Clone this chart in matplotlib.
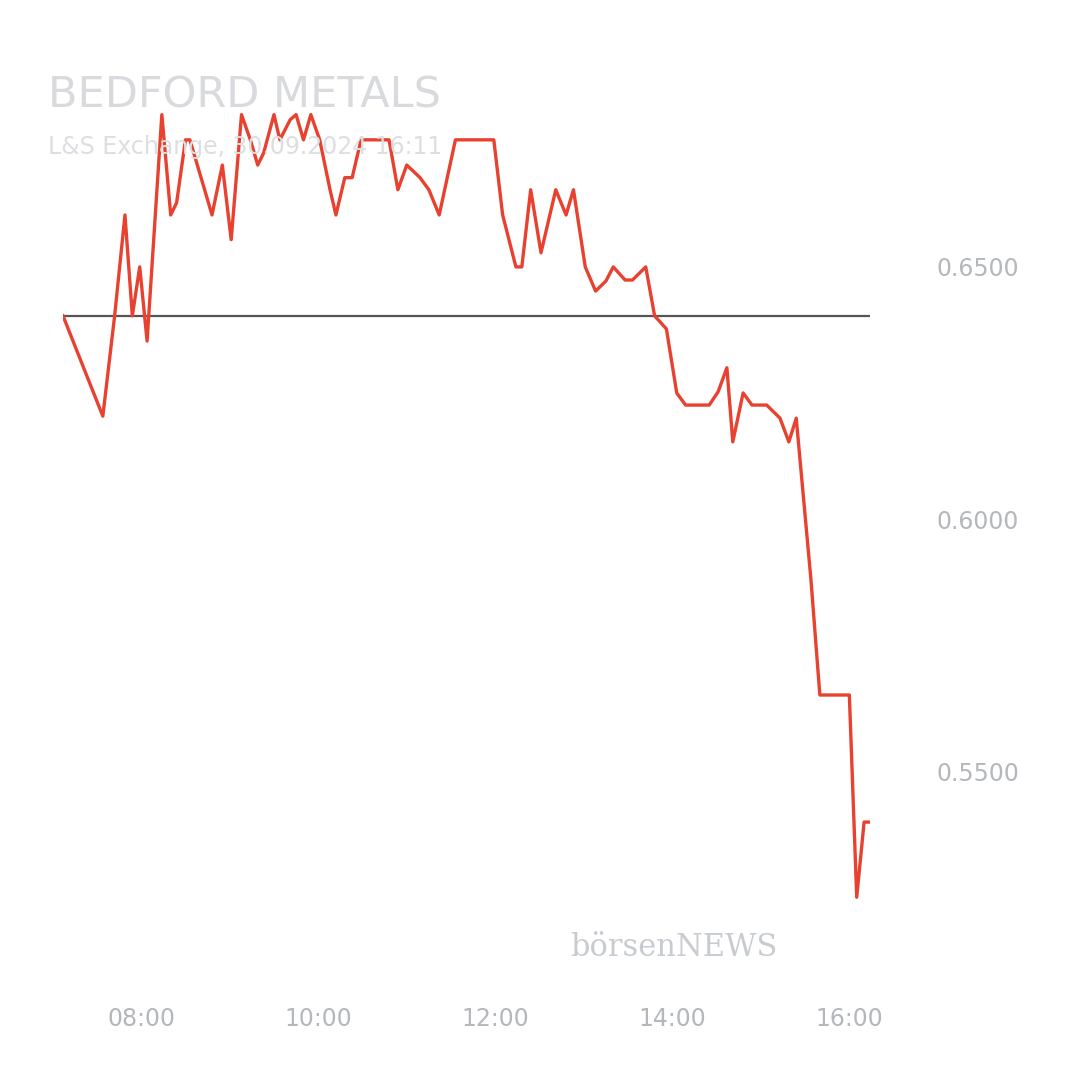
import matplotlib
matplotlib.use("Agg")
import matplotlib.pyplot as plt
import pandas as pd
import matplotlib.dates as mdates

times = ["07:07","07:34","07:42","07:49","07:54","07:59","08:04","08:14","08:20","08:24","08:30","08:33","08:43","08:48","08:55",
"09:01","09:08","09:14","09:19","09:23","09:30","09:34","09:41","09:45","09:50","09:55","10:01","10:08","10:12","10:18","10:23","10:29",
"10:48","10:54","11:00","11:09","11:15","11:22","11:33","11:59","12:05","12:14","12:18","12:24","12:31","12:41","12:48","12:53",
"13:01","13:08","13:15","13:20","13:28","13:33","13:42","13:48","13:56","14:03","14:09","14:25","14:31","14:37","14:41","14:48",
"14:54","15:04","15:13","15:19","15:24","15:34","15:40","16:00","16:05","16:10","16:14"]
prices = [0.6403,0.6204,0.6403,0.6603,0.6403,0.6500,0.6353,0.6802,0.6603,0.6627,0.6752,0.6752,0.6653,0.6603,0.6702,
0.6554,0.6802,0.6752,0.6702,0.6726,0.6802,0.6752,0.6792,0.6802,0.6752,0.6802,0.6752,0.6653,0.6603,0.6677,0.6677,0.6752,
0.6752,0.6653,0.6702,0.6677,0.6653,0.6603,0.6752,0.6752,0.6603,0.6500,0.6500,0.6653,0.6528,0.6653,0.6603,0.6653,
0.6500,0.6452,0.6472,0.6500,0.6474,0.6474,0.6500,0.6403,0.6377,0.6250,0.6226,0.6226,0.6252,0.6300,0.6153,0.6250,
0.6226,0.6226,0.6200,0.6153,0.6200,0.5879,0.5651,0.5651,0.5250,0.5399,0.5399]
prev_close = 0.6403
xticks = ["08:00","10:00","12:00","14:00","16:00"]

t = pd.to_datetime(["2024-09-30 " + s for s in times])
fig = plt.figure(figsize=(10.8, 10.8), dpi=100)
ax = fig.add_axes([63/1080, 90/1080, 807/1080, 890/1080])
ax.plot(t, prices, color="#e8412f", lw=2.4, zorder=3)
ax.plot([t[0], t[-1]], [prev_close, prev_close], color="#555555", lw=1.6, zorder=2)
ax.set_xlim(t[0], t[-1])
ax.set_ylim(0.5066, 0.6831)
for s in ax.spines.values():
    s.set_visible(False)
ax.set_xticks(pd.to_datetime(["2024-09-30 " + s for s in xticks]))
ax.xaxis.set_major_formatter(mdates.DateFormatter("%H:%M"))
ax.set_yticks([0.55, 0.60, 0.65])
ax.set_yticklabels(["0.5500", "0.6000", "0.6500"])
ax.yaxis.tick_right()
ax.tick_params(length=0, labelsize=17, labelcolor="#b4b7bc", pad=12)
ax.tick_params(axis="y", pad=48)
fig.text(48/1080, 1 - 95/1080, "BEDFORD METALS", fontsize=31, color="#d8dadd", va="center")
fig.text(48/1080, 1 - 147/1080, "L&S Exchange, 30.09.2024 16:11", fontsize=17, color="#dcdee1", va="center")
fig.text(570/1080, 1 - 948/1080, "börsenNEWS", fontsize=22, color="#c8ccd0", family="DejaVu Serif", va="center")
fig.savefig("out.png", dpi=100, facecolor="white")
